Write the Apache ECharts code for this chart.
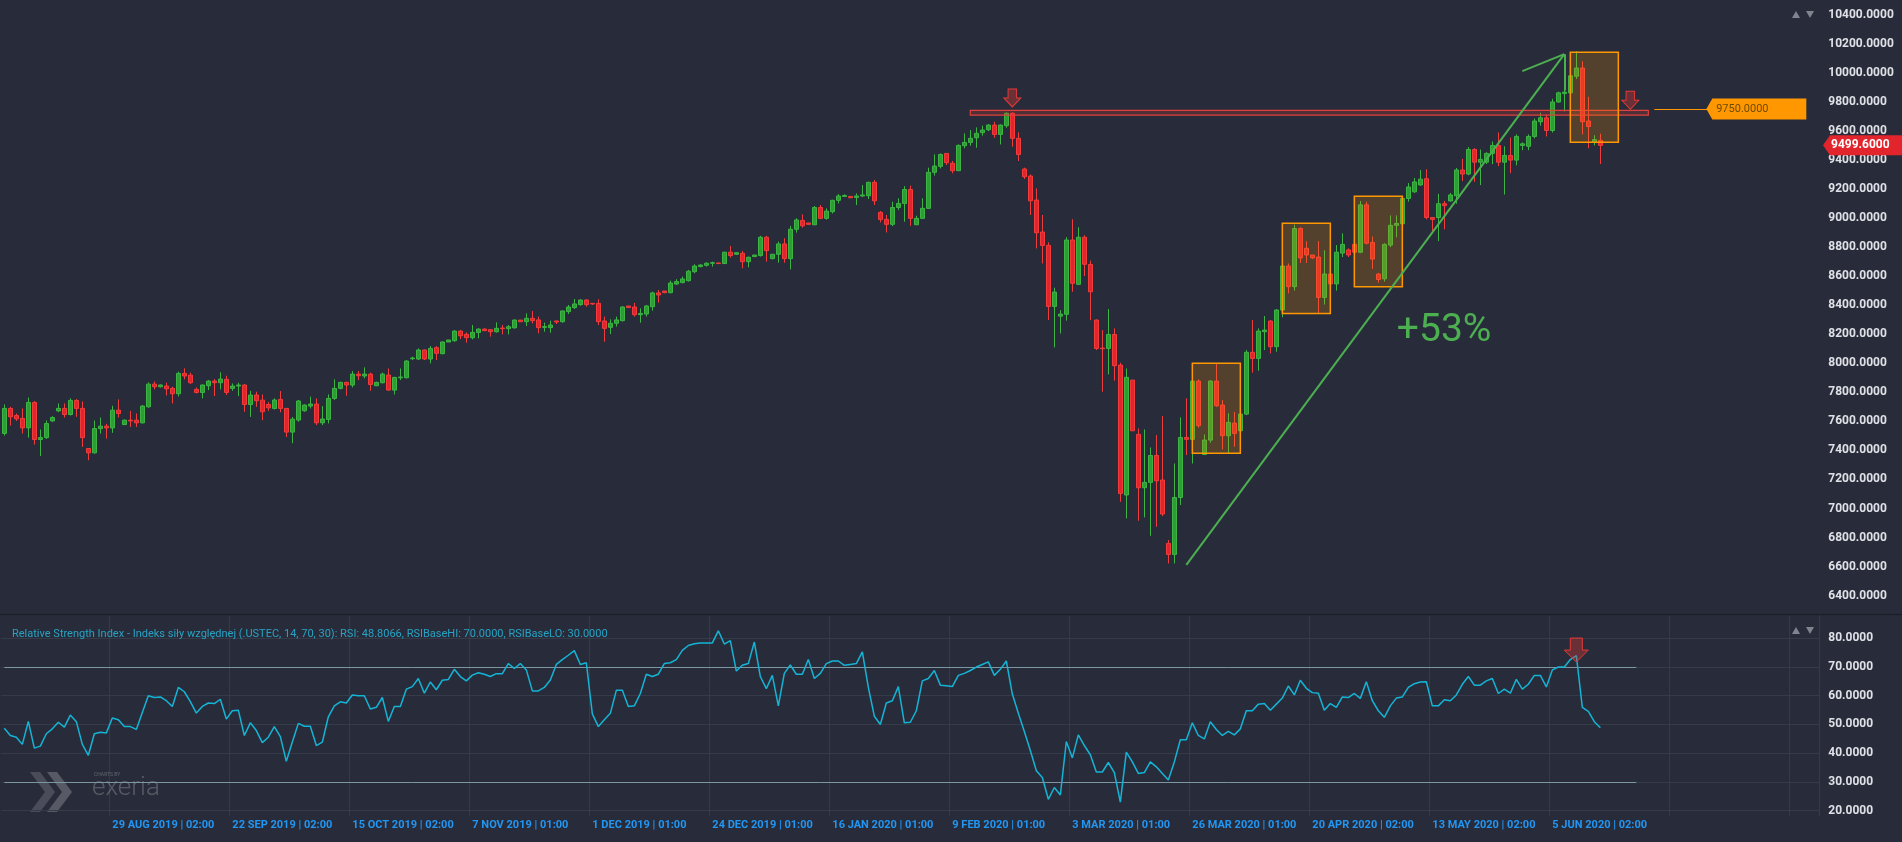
<!DOCTYPE html>
<html><head><meta charset="utf-8">
<script src="https://cdn.jsdelivr.net/npm/echarts@6/dist/echarts.min.js"></script>
<style>html,body{margin:0;padding:0;background:#282c3a;overflow:hidden}#c{width:1902px;height:842px}</style>
</head><body><div id="c"></div>
<script>
// ---------- DATA ----------
const opens = [7517,7689,7640,7620,7555,7730,7475,7488,7603,7672,
7689,7647,7744,7689,7413,7383,7550,7567,7555,7677,
7578,7608,7608,7590,7700,7856,7838,7843,7827,7790,
7930,7918,7820,7799,7845,7877,7866,7889,7827,7843,
7850,7716,7781,7746,7716,7689,7751,7689,7526,7609,
7673,7705,7719,7590,7613,7758,7827,7868,7850,7925,
7912,7925,7845,7866,7919,7815,7900,7900,8031,8029,
8091,8029,8107,8066,8146,8155,8221,8199,8176,8212,
8235,8231,8217,8242,8238,8244,8297,8286,8309,8298,
8247,8245,8291,8286,8355,8383,8403,8435,8412,8412,
8291,8247,8275,8293,8394,8387,8334,8339,8389,8484,
8497,8486,8545,8555,8568,8630,8665,8674,8688,8690,
8686,8764,8750,8757,8699,8734,8741,8867,8720,8750,
8821,8720,8922,8983,8965,8953,9072,8997,9043,9121,
9148,9148,9141,9151,9153,9245,9038,8990,8956,9072,
9100,9196,8953,8997,9066,9314,9355,9444,9376,9325,
9497,9520,9552,9587,9607,9639,9575,9635,9720,9548,
9337,9288,9123,8903,8811,8391,8324,8337,8848,8543,
8867,8680,8297,8104,8102,8198,7987,7093,7884,7510,
7143,7180,7365,7196,6760,6684,7076,7489,7476,7877,
7372,7471,7877,7712,7501,7588,7535,7650,8075,8033,
8217,8290,8114,8366,8669,8527,8927,8791,8745,8731,
8453,8614,8546,8758,8780,8818,8764,9090,8831,8614,
8581,8813,8949,8960,9134,9180,9227,9270,9003,9003,
9098,9117,9153,9330,9302,9471,9384,9384,9444,9499,
9384,9430,9398,9499,9493,9561,9662,9689,9602,9798,
9856,9861,9975,10032,9667,9520,9534];
const closes = [7689,7631,7617,7555,7730,7475,7488,7585,7626,7689,
7647,7744,7689,7488,7383,7550,7567,7555,7677,7654,
7608,7603,7590,7705,7856,7838,7850,7824,7790,7930,
7912,7866,7799,7850,7877,7866,7891,7799,7843,7850,
7716,7781,7742,7666,7693,7747,7689,7526,7615,7740,
7712,7719,7590,7616,7758,7827,7868,7850,7925,7914,
7925,7854,7868,7925,7815,7902,7905,8015,8036,8091,
8029,8102,8068,8146,8160,8221,8189,8176,8212,8235,
8224,8217,8240,8238,8251,8297,8286,8309,8293,8245,
8252,8263,8284,8360,8387,8408,8435,8403,8408,8286,
8240,8275,8298,8387,8383,8334,8343,8394,8484,8470,
8486,8552,8562,8580,8633,8669,8676,8688,8692,8686,
8764,8741,8761,8699,8729,8745,8867,8775,8750,8821,
8720,8922,8986,8946,8956,9072,8997,9047,9121,9151,
9155,9139,9151,9158,9245,9118,8990,8956,9072,9100,
9196,8997,8997,9066,9314,9357,9437,9380,9325,9499,
9520,9548,9582,9605,9639,9575,9639,9720,9548,9437,
9284,9118,8898,8811,8391,8490,8338,8848,8550,8867,
8681,8492,8102,8100,8198,7983,7104,7903,7535,7143,
7180,7365,7191,6962,6684,7076,7489,7476,7877,7570,
7471,7877,7707,7501,7593,7517,7650,8075,8033,8221,
8228,8114,8366,8669,8527,8927,8725,8745,8725,8453,
8614,8546,8764,8818,8745,8764,9090,8826,8717,8576,
8818,8949,8962,9134,9213,9248,9267,9003,8990,9098,
9085,9158,9330,9302,9471,9384,9403,9444,9499,9384,
9430,9398,9561,9510,9561,9667,9689,9602,9798,9861,
9866,9978,10032,9662,9629,9539,9499.6];
const lows = [7502,7571,7603,7516,7488,7440,7362,7479,7597,7663,
7626,7640,7631,7424,7332,7378,7516,7481,7521,7626,
7574,7562,7562,7585,7695,7820,7833,7778,7723,7771,
7889,7856,7792,7758,7815,7774,7820,7781,7810,7774,
7666,7631,7700,7608,7672,7682,7662,7492,7450,7597,
7666,7689,7574,7574,7586,7747,7820,7776,7834,7884,
7896,7811,7843,7861,7811,7785,7884,7896,8022,8022,
8022,7999,8022,8061,8146,8148,8166,8141,8164,8171,
8222,8183,8210,8199,8199,8238,8286,8256,8274,8206,
8217,8210,8270,8279,8339,8373,8396,8389,8401,8263,
8148,8201,8252,8288,8383,8321,8279,8321,8362,8417,
8481,8481,8539,8550,8562,8619,8660,8665,8665,8686,
8683,8727,8745,8653,8660,8734,8734,8699,8715,8692,
8692,8646,8899,8933,8954,8951,8992,8988,9031,9100,
9146,9139,9089,9146,9130,9089,8969,8900,8944,9054,
8974,8946,8951,8992,9061,9291,9341,9364,9307,9323,
9479,9497,9483,9566,9598,9552,9506,9621,9490,9392,
9268,9020,8790,8687,8297,8109,8205,8293,8492,8538,
8600,8297,8091,7804,7923,7880,7046,6932,7535,6916,
6939,6812,6874,6948,6622,6622,7024,7368,7310,7556,
7368,7453,7700,7407,7379,7425,7528,7643,7935,7948,
8091,8068,8079,8316,8481,8500,8690,8690,8717,8342,
8404,8518,8500,8731,8731,8649,8758,8818,8649,8554,
8562,8799,8867,8949,9112,9172,9221,8990,8908,8840,
8922,9112,9098,9254,9294,9248,9226,9371,9371,9357,
9161,9308,9362,9466,9466,9548,9635,9561,9588,9793,
9733,9806,9956,9575,9480,9499,9371];
const highs = [7716,7700,7654,7689,7764,7739,7544,7606,7636,7723,
7723,7758,7753,7737,7413,7606,7626,7583,7707,7751,
7613,7672,7654,7712,7868,7875,7854,7866,7838,7942,
7965,7935,7833,7854,7884,7891,7937,7914,7861,7866,
7856,7810,7804,7785,7732,7758,7808,7691,7630,7747,
7717,7770,7758,7705,7786,7889,7873,7873,7946,7946,
7971,7935,7873,7935,7964,7907,7964,8022,8045,8102,
8095,8118,8118,8150,8160,8228,8228,8212,8263,8240,
8240,8235,8281,8263,8263,8302,8297,8343,8359,8321,
8279,8293,8291,8362,8401,8442,8440,8440,8412,8440,
8321,8302,8321,8392,8394,8415,8378,8401,8493,8504,
8497,8568,8578,8596,8642,8681,8681,8695,8699,8692,
8768,8807,8761,8773,8734,8745,8876,8876,8750,8837,
8860,8945,8998,9024,8967,9082,9089,9066,9125,9164,
9162,9148,9169,9226,9249,9261,9047,9020,9112,9135,
9219,9222,9015,9135,9346,9437,9444,9444,9392,9506,
9582,9605,9623,9635,9646,9662,9644,9727,9727,9589,
9346,9300,9203,9020,8832,8520,8366,8867,8991,8936,
8880,8706,8302,8228,8373,8240,8003,7964,7884,7551,
7544,7420,7505,7636,6783,7310,7627,7758,7896,7889,
7510,7884,7994,7746,7655,7664,7655,8091,8297,8240,
8325,8297,8373,8710,8687,8954,8935,8840,8745,8840,
8777,8641,8813,8894,8791,8840,9117,9112,8872,8622,
8826,9017,9017,9139,9240,9275,9330,9335,9003,9166,
9117,9172,9344,9406,9488,9480,9471,9452,9526,9588,
9493,9553,9575,9520,9575,9684,9724,9711,9820,9869,
9880,10092,10147,10078,9834,9569,9580];

const rsiA = [48.6,46.1,45.5,43.0,51.0,41.7,42.4,46.7,48.4,50.7,
49.0,53.2,50.9,43.0,39.2,46.7,47.2,47.0,52.2,51.6,
49.2,49.2,48.2,54.1,59.9,59.3,59.5,58.2,56.2,62.8,
61.3,57.9,53.9,56.2,57.4,57.2,58.7,51.8,54.7,54.9,
46.1,50.5,47.8,43.6,45.5,49.2,45.7,37.1,43.8,50.3,
49.3,49.3,42.6,43.8,52.6,56.4,57.8,57.4,60.2,59.9,
59.9,55.3,55.9,59.3,51.0,56.2,56.2,62.2,63.1,65.9,
60.8,64.7,62.0,65.3,65.6,69.1,66.6,65.1,67.1,67.9,
67.4,66.6,67.6,67.6,71.1,69.4,71.1,68.9,61.6,61.6,
62.8,65.4,70.8,72.5,74.0,75.6,70.8,71.4,53.6,49.2,
51.6,53.8,61.8,61.8,56.2,56.4,60.7,67.4,66.6,67.4,
71.1,71.4,72.5,75.7,77.4,78.0,78.3,78.3,78.3,82.5,
77.9,79.1,68.5,70.5,71.1,78.6,66.6,62.4,67.0,56.4,
67.7,70.6,67.4,67.4,72.5,65.9,67.7,71.1,72.0,72.0,
70.5,70.8,71.1,75.2,62.8,52.8,49.9,57.4,58.2,63.1,
50.5,50.7,54.7,65.1,65.9,68.7,63.6];
const rsiMid = [63.4];
const rsiB = [63.1,67.0,67.7,68.7,69.9,70.8,71.7,67.0,69.1,72.0,
60.5,53.8,47.5,40.9,33.8,31.5,23.9,28.0,25.4,44.0,
38.3,46.3,42.6,39.4,33.4,33.4,36.7,33.2,22.9,40.3,
36.9,32.9,33.2,36.9,35.2,32.9,30.6,36.9,44.6,44.6,
50.5,46.1,44.9,50.9,48.2,46.1,47.5,46.3,48.4,54.7,
54.7,57.0,57.2,54.9,57.0,59.1,63.3,60.2,65.3,62.5,
61.0,60.8,54.9,57.2,55.9,59.5,59.3,60.7,59.0,64.8,
58.2,54.7,52.4,56.4,59.1,59.5,62.8,64.1,64.7,64.8,
56.4,56.4,58.5,58.2,60.2,63.9,66.6,63.6,63.6,65.1,
65.9,60.7,62.2,60.8,65.6,62.2,63.9,67.0,67.0,63.0,
68.9,69.9,69.9,72.5,73.9,55.9,54.5,50.9,48.8066];

const tickLabels = ['29 AUG 2019 | 02:00','22 SEP 2019 | 02:00','15 OCT 2019 | 02:00','7 NOV 2019 | 01:00',
'1 DEC 2019 | 01:00','24 DEC 2019 | 01:00','16 JAN 2020 | 01:00','9 FEB 2020 | 01:00','3 MAR 2020 | 01:00',
'26 MAR 2020 | 01:00','20 APR 2020 | 02:00','13 MAY 2020 | 02:00','5 JUN 2020 | 02:00'];
const tickStart = 18, tickEvery = 20;
const firstDay = [2019, 7, 8];      // 8 Aug 2019, daily bars Sun-Fri
const totalSlots = 303;             // bars + empty future slots
const lastPrice = 9499.6;
const levelPrice = 9750;
const resistZone = [161, 274, 9708, 9740];
const boxes = [[198,206,7380,8000],[213,221,8342,8963],[225,233,8527,9150],[261,269,9521,10141]];
const trendStart = [197, 6612], trendTip = [260, 10127];
const barbLeft = [253, 10010], barbDown = [260, 9877];
const gainLabel = {at:[232, 8222], text:'+53%'};
const priceArrows = [[168, 9826], [271, 9810]];
const rsiArrow = [262, 75.8];
const rsiBaseHi = 70, rsiBaseLo = 30, rsiBaseEnd = 272;
const rsiLevels = [20,30,40,50,60,70,80];
const rsiTitle = 'Relative Strength Index - Indeks siły względnej (.USTEC, 14, 70, 30): RSI: 48.8066, RSIBaseHI: 70.0000, RSIBaseLO: 30.0000';

// ---------- BUILD ----------
const cats = [];
(function(){ let d = new Date(Date.UTC(firstDay[0], firstDay[1], firstDay[2]));
  while (cats.length < totalSlots) { if (d.getUTCDay() !== 6) cats.push(d.toISOString().slice(0,10)); d.setUTCDate(d.getUTCDate()+1); } })();
const candles = opens.map((o,i)=>[o, closes[i], lows[i], highs[i]]);
const rsi = rsiA.concat(rsiMid, rsiB);
const isGrid = i => i >= tickStart && (i - tickStart) % tickEvery === 0;
const isTick = i => isGrid(i) && (i - tickStart) / tickEvery < tickLabels.length;

const BG = '#282c3a';
const UP = '#2e9d36', UPB = '#3cb545', DN = '#e2252d', DNB = '#f23c3c';
const GRIDC = '#363b4a';
const arrowPath = 'path://M6,0L18,0L18,12L24,12L12,24L0,12L6,12Z';
const tagPath = 'path://M0,10.5L6,0L100,0L100,21L6,21Z';

const L = 1.33, W = 1818;
const chart = echarts.init(document.getElementById('c'), null, {width:1902, height:842});
const option = {
  backgroundColor: BG, animation: false,
  textStyle: {fontFamily: 'Roboto'},
  grid: [
    {left: L, top: 0, width: W, height: 614, outerBoundsMode: 'none', containLabel: false},
    {left: L, top: 615, width: W, height: 201, outerBoundsMode: 'none', containLabel: false}
  ],
  xAxis: [
    {type:'category', gridIndex:0, data: cats, boundaryGap: true, show: false},
    {type:'category', gridIndex:1, data: cats, boundaryGap: true,
     axisLine:{show:false}, axisTick:{show:false},
     axisLabel:{interval:(i)=>isTick(i), formatter:(v,i)=> isTick(i) ? tickLabels[(i-tickStart)/tickEvery] : '',
       color:'#2196f3', fontWeight:'bold', fontSize:11, align:'left', margin:4},
     splitLine:{show:true, interval:(i)=>isGrid(i), lineStyle:{color:GRIDC, width:1}}}
  ],
  yAxis: [
    {type:'value', gridIndex:0, position:'right', min:6274, max:10500, minInterval:200, maxInterval:200,
     splitLine:{show:false}, axisLine:{show:false}, axisTick:{show:false},
     axisLabel:{margin:9, color:'#dfe1e6', fontWeight:'bold', fontSize:12,
       formatter:v => (Math.abs(v % 200) < 1e-6 && v >= 6400 && v <= 10400) ? v.toFixed(4) : ''}},
    {type:'value', gridIndex:1, position:'right', min:18.09, max:88, minInterval:10, maxInterval:10,
     splitLine:{show:false}, axisLine:{show:false}, axisTick:{show:false},
     axisLabel:{margin:9, color:'#dfe1e6', fontWeight:'bold', fontSize:12,
       formatter:v => (Math.abs(v/10 - Math.round(v/10)) < 1e-6 && v >= 20 && v <= 80) ? v.toFixed(4) : ''}}
  ],
  series: [
    {type:'candlestick', xAxisIndex:0, yAxisIndex:0, data: candles, barWidth: 4, z: 2, silent: true,
     itemStyle:{color:UP, color0:DN, borderColor:UPB, borderColor0:DNB, borderWidth:1}},
    {type:'line', xAxisIndex:0, yAxisIndex:0, data: [], z: 10, silent: true,
     markArea:{silent:true, z:10, label:{show:false},
       data: [[{coord:[resistZone[0], resistZone[3]], itemStyle:{color:'rgba(229,57,53,0.22)', borderColor:'#e0403c', borderWidth:1.2}},
               {coord:[resistZone[1], resistZone[2]]}]].concat(
         boxes.map(b => [{coord:[b[0], b[3]], itemStyle:{color:'rgba(255,152,0,0.2)', borderColor:'#ff9800', borderWidth:1.5}},
                         {coord:[b[1], b[2]]}]))},
     markLine:{silent:true, z:11, symbol:['none','none'], label:{show:false},
       data: [
         [{coord:trendStart, lineStyle:{color:'#4caf50', width:2, type:'solid'}}, {coord:trendTip}],
         [{coord:barbLeft, lineStyle:{color:'#4caf50', width:2, type:'solid'}}, {coord:trendTip}],
         [{coord:barbDown, lineStyle:{color:'#4caf50', width:2, type:'solid'}}, {coord:trendTip}],
         [{coord:[275, levelPrice], lineStyle:{color:'#ff9800', width:1, type:'solid'}}, {coord:[284, levelPrice]}]
       ]},
     markPoint:{silent:true, z:12,
       data: priceArrows.map(p => ({coord:p, symbol:arrowPath, symbolSize:[17,18],
                itemStyle:{color:'rgba(229,57,53,0.35)', borderColor:'#e53935', borderWidth:1}, label:{show:false}}))
         .concat([
           {coord:[292, levelPrice], symbol:tagPath, symbolSize:[100,21], itemStyle:{color:'#ff9800'},
            label:{show:true, position:'inside', formatter: levelPrice.toFixed(4), color:'#6e4a00', fontSize:11, offset:[-14,0]}},
           {coord:gainLabel.at, symbol:'rect', symbolSize:1, itemStyle:{color:'rgba(0,0,0,0)'},
            label:{show:true, position:'right', distance:0, formatter:gainLabel.text, color:'#4caf50', fontSize:39}}
         ])}
    },
    {type:'line', xAxisIndex:1, yAxisIndex:1, data: rsi, showSymbol:false, silent:true, z:3, clip:false,
     lineStyle:{color:'#14b4d6', width:1.5},
     markLine:{silent:true, z:1, symbol:['none','none'], label:{show:false},
       data: rsiLevels.map(v => ({yAxis:v, lineStyle:{color:GRIDC, width:1, type:'solid'}})).concat([
         [{coord:[0, rsiBaseHi], lineStyle:{color:'#7d97a2', width:1, type:'solid'}}, {coord:[rsiBaseEnd, rsiBaseHi]}],
         [{coord:[0, rsiBaseLo], lineStyle:{color:'#7d97a2', width:1, type:'solid'}}, {coord:[rsiBaseEnd, rsiBaseLo]}]
       ])},
     markPoint:{silent:true, z:12, data:[{coord:rsiArrow, symbol:arrowPath, symbolSize:[24,24],
       itemStyle:{color:'rgba(229,57,53,0.35)', borderColor:'#e53935', borderWidth:1}, label:{show:false}}]}
    }
  ]
};
chart.setOption(option);

// ---------- overlays placed through the chart's own scales ----------
const yLast = chart.convertToPixel({yAxisIndex:0}, lastPrice);
const tri = (x, y, up) => ({type:'polygon', shape:{points: up ? [[x,y+7],[x+8,y+7],[x+4,y]] : [[x,y],[x+8,y],[x+4,y+7]]}, style:{fill:'#80848f'}, silent:true});
chart.setOption({graphic:[
  {type:'line', shape:{x1:0, y1:614.5, x2:1902, y2:614.5}, style:{stroke:'#1c1f29', lineWidth:1.5}, silent:true, z:20},
  {type:'polygon', shape:{points:[[1823,yLast],[1830,yLast-10],[1902,yLast-10],[1902,yLast+10],[1830,yLast+10]]}, style:{fill:'#e2252d'}, z:30, silent:true},
  {type:'text', x:1831, y:yLast, style:{text:lastPrice.toFixed(4), fill:'#ffffff', font:'bold 12px Roboto', verticalAlign:'middle'}, z:31, silent:true},
  {type:'text', x:12, y:634, style:{text:rsiTitle, fill:'#27a3c4', font:'11px Roboto', verticalAlign:'middle'}, z:20, silent:true},
  tri(1792, 11, true), tri(1806, 11, false), tri(1792, 627, true), tri(1806, 627, false),
  {type:'polygon', shape:{points:[[30,772],[40,772],[55,792],[40,812],[30,812],[45,792]]}, style:{fill:'rgba(255,255,255,0.16)'}, silent:true},
  {type:'polygon', shape:{points:[[47,772],[57,772],[72,792],[57,812],[47,812],[62,792]]}, style:{fill:'rgba(255,255,255,0.22)'}, silent:true},
  {type:'text', x:94, y:775, style:{text:'CHARTS BY', fill:'rgba(255,255,255,0.25)', font:'5px Roboto', verticalAlign:'middle'}, silent:true},
  {type:'text', x:92, y:801, style:{text:'exeria', fill:'rgba(255,255,255,0.22)', font:'300 26px Roboto', verticalAlign:'bottom'}, silent:true}
]});
</script>
</body></html>
